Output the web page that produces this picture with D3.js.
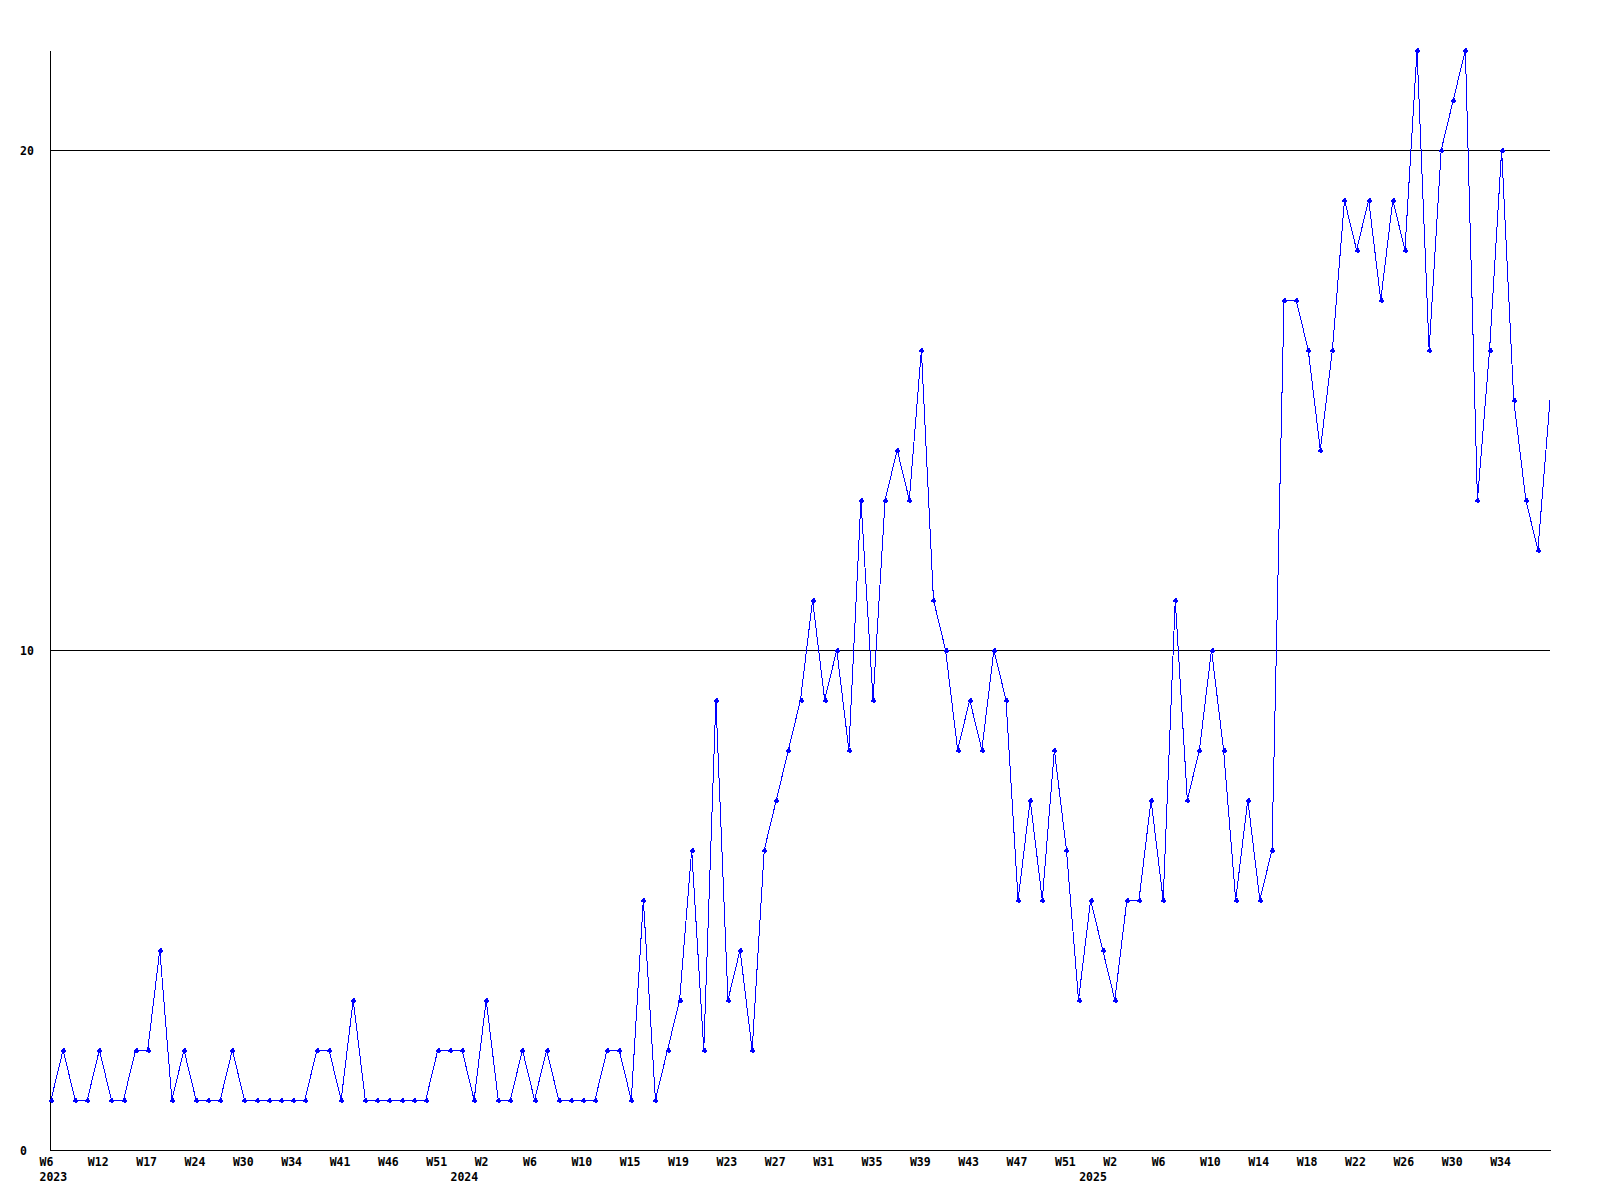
<!DOCTYPE html>
<html>
<head>
<meta charset="utf-8">
<script src="https://cdnjs.cloudflare.com/ajax/libs/d3/7.8.5/d3.min.js"></script>
<style>
body { margin: 0; background: #fff; }
text { font-family: "DejaVu Sans Mono", monospace; font-weight: bold; font-size: 11.5px; fill: #000; }
</style>
</head>
<body>
<script>
// weekly counts, W6 2023 up to W38 2025 (a few 2023 weeks are missing)
var years = ["2023", "2024", "2025"]
var weeks2023 = [6, 7, 9, 10, 12, 13, 14, 16, 17, 19, 20, 22, 24, 25, 27, 28, 30, 31, 32, 33,
  34, 36, 38, 39, 41, 42, 43, 45, 46, 48, 49, 50, 51, 52]
var weeks2024 = [0, 1, 2, 3, 4, 5, 6, 7, 8, 9, 10, 11, 12, 14, 15, 16, 17, 18, 19, 20,
  21, 22, 23, 24, 25, 26, 27, 28, 29, 30, 31, 32, 33, 34, 35, 36, 37, 38, 39, 40,
  41, 42, 43, 44, 45, 46, 47, 48, 49, 50, 51, 52]
var weeks2025 = [0, 1, 2, 3, 4, 5, 6, 7, 8, 9, 10, 11, 12, 13, 14, 15, 16, 17, 18, 19,
  20, 21, 22, 23, 24, 25, 26, 27, 28, 29, 30, 31, 32, 33, 34, 35, 36, 37, 38]
var counts = [
  1, 2, 1, 1, 2, 1, 1, 2, 2, 4,
  1, 2, 1, 1, 1, 2, 1, 1, 1, 1,
  1, 1, 2, 2, 1, 3, 1, 1, 1, 1,
  1, 1, 2, 2, 2, 1, 3, 1, 1, 2,
  1, 2, 1, 1, 1, 1, 2, 2, 1, 5,
  1, 2, 3, 6, 2, 9, 3, 4, 2, 6,
  7, 8, 9, 11, 9, 10, 8, 13, 9, 13,
  14, 13, 16, 11, 10, 8, 9, 8, 10, 9,
  5, 7, 5, 8, 6, 3, 5, 4, 3, 5,
  5, 7, 5, 11, 7, 8, 10, 8, 5, 7,
  5, 6, 17, 17, 16, 14, 16, 19, 18, 19,
  17, 19, 18, 22, 16, 20, 21, 22, 13, 16,
  20, 15, 13, 12, 15]
var yTicks = [0, 10, 20]
var gridTicks = [10, 20]

// category keys like "2024-W15"
var keys = []
var yearStarts = []
;[weeks2023, weeks2024, weeks2025].forEach(function(list, yi){
  list.forEach(function(w, i){
    var k = years[yi] + "-W" + w
    if (i == 0) yearStarts.push(k)
    keys.push(k)
  })
})

var w = 1600
var h = 1200

var svg = d3.select("body").append("svg")
  .attr("width", w)
  .attr("height", h)

var x = d3.scalePoint()
  .domain(keys)
  .range([51, 1550])

var y = d3.scaleLinear()
  .domain([0, 22])
  .range([1150, 50])

// horizontal grid lines
var grid = svg.append("g")
  .attr("transform", "translate(50,0)")
  .call(d3.axisLeft(y).tickValues(gridTicks).tickSize(-1500).tickFormat(""))
grid.select(".domain").remove()
grid.selectAll("line").attr("stroke", "#000").attr("shape-rendering", "crispEdges")

// y axis with labels on the far left
var yAxis = svg.append("g")
  .attr("transform", "translate(50,0)")
  .call(d3.axisLeft(y).tickValues(yTicks).tickSize(0).tickSizeOuter(0))
yAxis.select(".domain").attr("stroke", "#000").attr("shape-rendering", "crispEdges")
yAxis.selectAll("text")
  .attr("x", -30)
  .attr("dy", "0.35em")
  .attr("text-anchor", "start")
yAxis.attr("font-family", null).attr("font-size", null)

// x axis, a label every 4th week
var tickKeys = keys.filter(function(k, i){ return i % 4 == 0 && i < keys.length - 1 })
var xAxis = svg.append("g")
  .attr("transform", "translate(0,1150)")
  .call(d3.axisBottom(x).tickValues(tickKeys).tickSize(0).tickSizeOuter(0)
    .tickFormat(function(k){ return k.split("-")[1] }))
xAxis.select(".domain").attr("stroke", "#000").attr("shape-rendering", "crispEdges")
  .attr("d", "M50.5,0.5H1550.5")
xAxis.selectAll("text")
  .attr("y", 16)
  .attr("dy", null)
  .attr("dx", -12)
  .attr("text-anchor", "start")
xAxis.attr("font-family", null).attr("font-size", null)

// year labels under the first week of each year
var yearAxis = svg.append("g")
  .attr("transform", "translate(0,1150)")
  .call(d3.axisBottom(x).tickValues(yearStarts).tickSize(0).tickSizeOuter(0)
    .tickFormat(function(k){ return k.split("-")[0] }))
yearAxis.select(".domain").remove()
yearAxis.selectAll("text")
  .attr("y", 31)
  .attr("dy", null)
  .attr("dx", -12)
  .attr("text-anchor", "start")
yearAxis.attr("font-family", null).attr("font-size", null)

// the line
var line = d3.line()
  .x(function(d, i){ return x(keys[i]) })
  .y(function(d){ return y(d) })

svg.append("path")
  .datum(counts)
  .attr("d", line)
  .attr("fill", "none")
  .attr("stroke", "#0000ff")
  .attr("stroke-width", 1)
  .attr("shape-rendering", "crispEdges")

// small plus markers (the last point sits on the edge and has none)
var marks = counts.slice(0, counts.length - 1)
svg.selectAll(".dot")
  .data(marks)
  .enter()
  .append("path")
  .attr("class", "dot")
  .attr("d", function(d, i){
    var px = Math.round(x(keys[i])), py = Math.round(y(d))
    return "M" + (px - 2) + "," + (py - 0.5) + "h5v2h-5z" +
      "M" + (px - 0.5) + "," + (py - 2) + "h2v5h-2z" +
      "M" + (px - 1) + "," + (py - 1) + "h3v3h-3z"
  })
  .attr("fill", "#0000ff")
  .attr("shape-rendering", "crispEdges")
</script>
</body>
</html>
